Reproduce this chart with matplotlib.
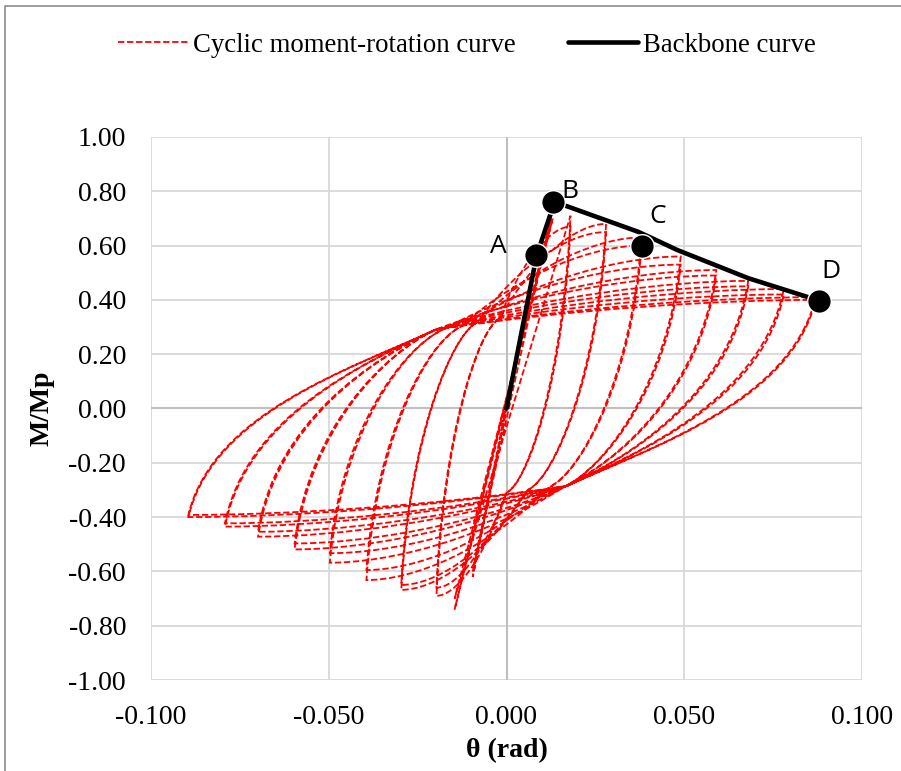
import matplotlib
matplotlib.use("Agg")
import matplotlib.pyplot as plt
from matplotlib.path import Path
from matplotlib.patches import PathPatch
from matplotlib.lines import Line2D

# peak rotations (rad) and M/Mp of each amplitude level, two cycles per level
pos_theta = [0.0085, 0.013, 0.018, 0.028, 0.038, 0.049, 0.059, 0.068, 0.078, 0.087]
pos_m1    = [0.56, 0.73, 0.71, 0.68, 0.63, 0.56, 0.51, 0.47, 0.44, 0.41]
pos_m2    = [0.55, 0.70, 0.67, 0.65, 0.60, 0.53, 0.49, 0.45, 0.42, 0.40]
neg_theta = [-0.0095, -0.0146, -0.0197, -0.0296, -0.0394, -0.0497, -0.0596, -0.0699, -0.0792, -0.0895]
neg_m1    = [-0.62, -0.74, -0.69, -0.668, -0.632, -0.568, -0.519, -0.472, -0.435, -0.40]
neg_m2    = [-0.60, -0.70, -0.66, -0.650, -0.595, -0.533, -0.497, -0.454, -0.423, -0.392]

# pinching points where unloading joins the reloading bundle (None = elastic cycle)
down_pinch_theta = [None, None, 0.000, 0.006, 0.012, 0.016, 0.016, 0.017, 0.017, 0.017]
down_pinch_m     = [None, None, -0.31, -0.30, -0.29, -0.29, -0.29, -0.285, -0.285, -0.285]
up_pinch_theta   = [None, None, -0.002, -0.008, -0.013, -0.018, -0.020, -0.020, -0.020, -0.020]
up_pinch_m       = [None, None, 0.33, 0.32, 0.30, 0.29, 0.29, 0.29, 0.29, 0.29]

# backbone curve and its characteristic points
backbone_theta = [0.0, 0.0085, 0.0135, 0.017, 0.037, 0.041, 0.048, 0.068, 0.088]
backbone_m     = [0.0, 0.565, 0.76, 0.745, 0.651, 0.627, 0.584, 0.48, 0.397]
point_names = ["A", "B", "C", "D"]
point_theta = [0.0083, 0.0132, 0.038, 0.088]
point_m     = [0.565, 0.76, 0.60, 0.397]
label_theta = [-0.0022, 0.0177, 0.0425, 0.0912]
label_m     = [0.596, 0.80, 0.706, 0.504]


def unload(p, q):
    # steep unloading from a peak bending into the pinch bundle
    dx = p[0] - q[0]
    up = 1 if p[1] > q[1] else -1
    c1 = (p[0] - 0.1 * dx, p[1] - 0.55 * (p[1] - q[1]))
    c2 = (q[0] + 0.35 * dx, q[1] + up * 0.35 * abs(dx) * 6)
    return [c1, c2, q]


def reload(q, p):
    # from the pinch bundle towards the next peak, flattening at the end
    dx = q[0] - p[0]
    c1 = (q[0] - 0.35 * dx, q[1] + 0.7 * (p[1] - q[1]))
    c2 = (p[0] + 0.25 * dx, p[1])
    return [c1, c2, p]


verts = [(0.0, 0.0)]
codes = [Path.MOVETO]
peaks = []
for i in range(len(pos_theta)):
    for pm, nm in ((pos_m1[i], neg_m1[i]), (pos_m2[i], neg_m2[i])):
        peaks.append((i, (pos_theta[i], pm), (neg_theta[i], nm)))

verts.append(peaks[0][1])
codes.append(Path.LINETO)
for k, (i, p, n) in enumerate(peaks):
    if down_pinch_theta[i] is None:
        verts.append(n)
        codes.append(Path.LINETO)
    else:
        q = (down_pinch_theta[i], down_pinch_m[i])
        verts += unload(p, q) + reload(q, n)
        codes += [Path.CURVE4] * 6
    nxt = peaks[k + 1][1] if k + 1 < len(peaks) else None
    if up_pinch_theta[i] is None:
        verts.append(nxt)
        codes.append(Path.LINETO)
    else:
        r = (up_pinch_theta[i], up_pinch_m[i])
        verts += unload(n, r)
        codes += [Path.CURVE4] * 3
        if nxt is not None:
            verts += reload(r, nxt)
            codes += [Path.CURVE4] * 3

plt.rcParams["font.family"] = "Liberation Serif"

fig = plt.figure(figsize=(9.01, 7.71), dpi=100)
ax = fig.add_axes([151 / 901, 1 - 680 / 771, 711 / 901, 543 / 771])

red_style = dict(color="red", lw=1.3, linestyle=(0, (3.5, 1.5)))
ax.add_patch(PathPatch(Path(verts, codes), facecolor="none", edgecolor="red",
                       lw=1.3, linestyle=(0, (3.5, 1.5)), zorder=3))

ax.plot(backbone_theta, backbone_m, color="black", lw=3.3, solid_capstyle="round",
        solid_joinstyle="round", zorder=4)
ax.plot(point_theta, point_m, "o", color="black", ms=17, mec="white", mew=1.0, zorder=5)
for name, tx, ty in zip(point_names, label_theta, label_m):
    ax.text(tx, ty, name, family="Open Sans", fontsize=19, ha="center", va="center", zorder=6)

ax.set_xlim(-0.1, 0.1)
ax.set_ylim(-1.0, 1.0)
ax.set_xticks([-0.1, -0.05, 0.0, 0.05, 0.1])
ax.set_yticks([x / 10 for x in range(-10, 11, 2)])
ax.set_xticklabels(["-0.100", "-0.050", "0.000", "0.050", "0.100"])
ax.set_yticklabels(["%.2f" % (x / 10) for x in range(-10, 11, 2)])
ax.tick_params(length=0, labelsize=20, pad=18)
ax.tick_params(axis="y", pad=18)
ax.grid(color="#d9d9d9", lw=1.3, zorder=0)
ax.set_axisbelow(True)
for s in ax.spines.values():
    s.set_visible(False)
ax.axhline(0, color="#bfbfbf", lw=1.5, zorder=1)
ax.axvline(0, color="#bfbfbf", lw=1.5, zorder=1)

ax.set_xlabel("θ (rad)", fontsize=20, fontweight="bold", labelpad=6)
ax.set_ylabel("M/Mp", fontsize=20, fontweight="bold", labelpad=10)

handles = [Line2D([], [], **red_style), Line2D([], [], color="black", lw=3.3, solid_capstyle="round")]
fig.legend(handles, ["Cyclic moment-rotation curve", "Backbone curve"], loc="center",
           bbox_to_anchor=(0.5 + 16.5 / 901, 1 - 45 / 771), ncol=2, frameon=False, fontsize=19.3,
           handlelength=2.6, handletextpad=0.2, columnspacing=1.95)

# chart border (runs off the right and bottom edges)
fig.add_artist(Line2D([5 / 901, 5 / 901, 1.0], [0.0, 1 - 6 / 771, 1 - 6 / 771],
                      transform=fig.transFigure, color="#8c8c8c", lw=1.2))

fig.savefig("out.png", dpi=100)
